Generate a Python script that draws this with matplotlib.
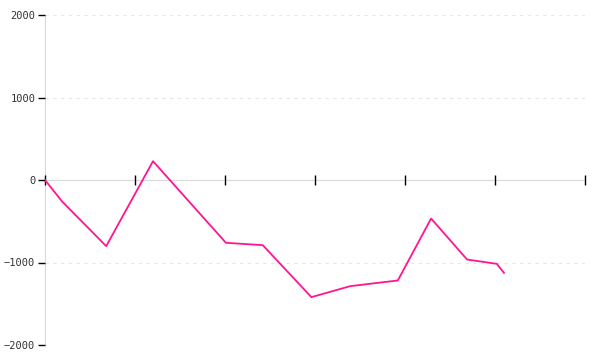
import matplotlib
matplotlib.use("Agg")
import matplotlib.pyplot as plt

# values
x_vals = [0, 0.19, 0.68, 1.20, 2.01, 2.42, 2.96, 3.39, 3.92, 4.29, 4.69, 5.02, 5.10]
y_vals = [0, -260, -802, 228, -761, -790, -1420, -1287, -1218, -467, -964, -1016, -1125]
y_ticks = [-2000, -1000, 0, 1000, 2000]
x_ticks = [0, 1, 2, 3, 4, 5, 6]

fig = plt.figure(figsize=(6, 3.6), dpi=100)
ax = fig.add_axes([45 / 600, 15 / 360, 540 / 600, 330 / 360])

for g in [-2000, -1000, 1000, 2000]:
    ax.axhline(g, color='#e6e6e6', lw=0.8, ls=(0, (3, 4)), zorder=0)

ax.plot(x_vals, y_vals, color='#ff1493', lw=1.3, zorder=3)

ax.set_xlim(0, 6)
ax.set_ylim(-2000, 2000)

for s in ['top', 'right']:
    ax.spines[s].set_visible(False)
ax.spines['left'].set_position(('data', 0))
ax.spines['bottom'].set_position(('data', 0))
ax.spines['left'].set_color('#d9d9d9')
ax.spines['bottom'].set_color('#d9d9d9')
ax.spines['left'].set_zorder(0.5)
ax.spines['bottom'].set_zorder(0.5)

ax.set_yticks(y_ticks)
ax.set_xticks(x_ticks)
ax.set_xticklabels([])
ax.tick_params(axis='x', direction='inout', length=6.5, width=1, color='black')
ax.tick_params(axis='y', direction='out', length=5, width=1, color='black', pad=2,
               labelsize=7.5, labelcolor='#333333')
for lab in ax.get_yticklabels():
    lab.set_family('DejaVu Sans Mono')

fig.savefig('out.png', dpi=100)
